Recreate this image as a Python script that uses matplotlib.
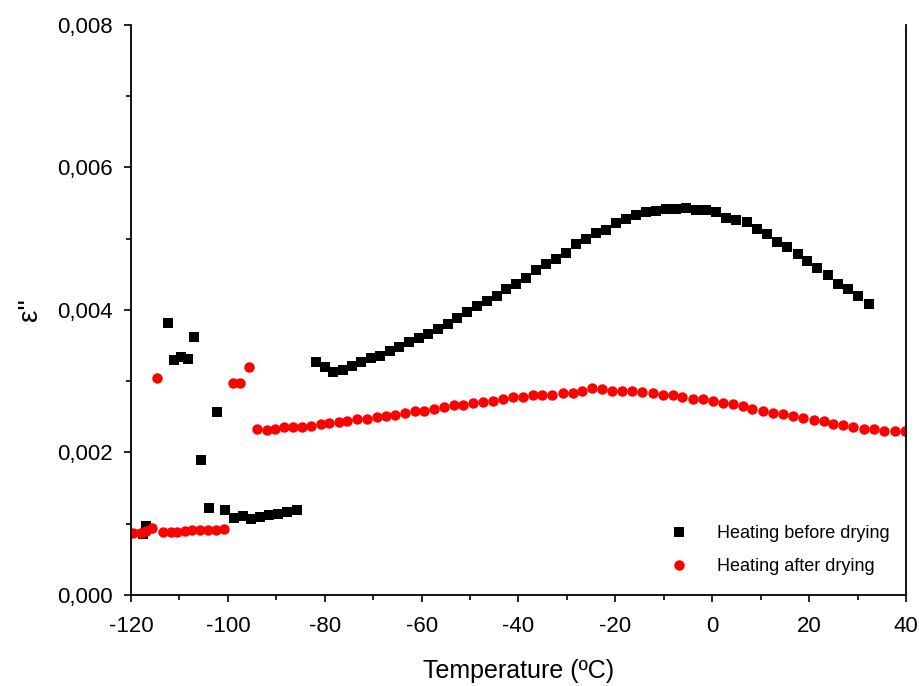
import numpy as np
import matplotlib
matplotlib.use("Agg")
import matplotlib.pyplot as plt
from matplotlib.ticker import MultipleLocator, FuncFormatter

plt.rcParams['font.family'] = ['Liberation Sans', 'DejaVu Sans']
plt.rcParams['axes.unicode_minus'] = False

# heating before drying (black squares), eps'' in units of 1e-3
t_before = [-117.6, -116.8, -112.4, -111.1, -109.7, -108.3, -107.0, -105.5, -103.8, -102.2,
            -100.5, -98.7, -96.8, -95.2, -93.4, -91.6, -89.7, -87.7, -85.7,
            -81.9, -79.9, -78.2, -76.2, -74.3, -72.5, -70.5, -68.5, -66.5, -64.6,
            -62.6, -60.5, -58.6, -56.6, -54.6, -52.6, -50.6, -48.5, -46.5, -44.5,
            -42.5, -40.5, -38.5, -36.4, -34.3, -32.3, -30.2, -28.1, -26.1, -24.0,
            -21.9, -19.9, -17.8, -15.7, -13.7, -11.6, -9.6, -7.5, -5.4, -3.4,
            -1.3, 0.8, 2.8, 5.0, 7.1, 9.3, 11.4, 13.4, 15.5, 17.6,
            19.6, 21.7, 23.8, 26.0, 28.0, 30.1, 32.3]
e_before = [0.85, 0.97, 3.82, 3.30, 3.34, 3.31, 3.62, 1.89, 1.22, 2.57,
            1.19, 1.08, 1.11, 1.07, 1.10, 1.12, 1.14, 1.16, 1.19,
            3.27, 3.20, 3.13, 3.16, 3.22, 3.27, 3.32, 3.36, 3.43, 3.48,
            3.55, 3.61, 3.66, 3.73, 3.81, 3.89, 3.97, 4.05, 4.12, 4.20,
            4.29, 4.36, 4.45, 4.56, 4.65, 4.72, 4.80, 4.93, 4.99, 5.08,
            5.12, 5.22, 5.27, 5.33, 5.37, 5.39, 5.42, 5.42, 5.43, 5.41,
            5.40, 5.37, 5.29, 5.26, 5.23, 5.13, 5.06, 4.95, 4.88, 4.79,
            4.69, 4.59, 4.49, 4.37, 4.30, 4.19, 4.09]

# heating after drying (red circles)
t_after = [-119.5, -118.0, -116.8, -115.7, -114.6, -113.3, -111.8, -110.4, -108.9, -107.4,
           -105.8, -104.1, -102.5, -100.7, -99.0, -97.4, -95.6,
           -93.9, -92.0, -90.3, -88.4, -86.6, -84.7, -82.9, -80.8, -79.1, -77.1,
           -75.3, -73.3, -71.3, -69.3, -67.4, -65.4, -63.5, -61.4, -59.5, -57.4,
           -55.4, -53.3, -51.4, -49.3, -47.4, -45.2, -43.3, -41.2, -39.1, -37.1,
           -35.2, -33.0, -30.9, -28.8, -26.9, -24.8, -22.8, -20.7, -18.6, -16.6,
           -14.5, -12.3, -10.2, -8.2, -6.2, -4.0, -2.0, 0.1, 2.2, 4.2,
           6.3, 8.3, 10.4, 12.5, 14.7, 16.7, 18.8, 21.0, 23.1, 25.0,
           27.0, 29.1, 31.3, 33.4, 35.5, 37.7, 39.8]
e_after = [0.875, 0.875, 0.90, 0.94, 3.05, 0.884, 0.884, 0.884, 0.90, 0.91,
           0.91, 0.91, 0.91, 0.92, 2.97, 2.97, 3.20,
           2.334, 2.316, 2.325, 2.353, 2.362, 2.362, 2.372, 2.400, 2.410, 2.428,
           2.446, 2.466, 2.475, 2.494, 2.512, 2.531, 2.550, 2.578, 2.587, 2.606,
           2.634, 2.662, 2.671, 2.699, 2.709, 2.727, 2.746, 2.774, 2.783, 2.811,
           2.811, 2.811, 2.839, 2.839, 2.858, 2.905, 2.895, 2.867, 2.867, 2.858,
           2.849, 2.830, 2.802, 2.802, 2.783, 2.755, 2.746, 2.727, 2.699, 2.681,
           2.653, 2.615, 2.587, 2.559, 2.541, 2.512, 2.484, 2.456, 2.447, 2.400,
           2.390, 2.353, 2.334, 2.325, 2.297, 2.297, 2.297]

xticks = [-120, -100, -80, -60, -40, -20, 0, 20, 40]
yticks = [0, 0.002, 0.004, 0.006, 0.008]

fig = plt.figure(figsize=(9.19, 6.86), dpi=100)
ax = fig.add_axes([0.1425, 0.1327, 0.8434, 0.8309])

ax.plot(t_before, np.array(e_before) * 1e-3, 's', color='black', ms=6.5, mew=0,
        label='Heating before drying')
ax.plot(t_after, np.array(e_after) * 1e-3, 'o', color='#ff0000', ms=7.5, mew=0,
        label='Heating after drying')

ax.set_xlim(-120, 40)
ax.set_ylim(0, 0.008)
ax.set_xticks(xticks)
ax.set_yticks(yticks)
ax.xaxis.set_minor_locator(MultipleLocator(10))
ax.yaxis.set_minor_locator(MultipleLocator(0.001))
ax.yaxis.set_major_formatter(FuncFormatter(lambda v, p: f"{v:.3f}".replace('.', ',')))

ax.spines['top'].set_visible(False)
for s in ['left', 'bottom', 'right']:
    ax.spines[s].set_linewidth(1.3)
ax.tick_params(which='major', direction='out', length=5, width=1.2, labelsize=16)
ax.tick_params(which='minor', direction='out', length=3.5, width=1.2)
ax.tick_params(axis='x', which='major', pad=10)
ax.tick_params(axis='y', which='major', pad=8)
ax.tick_params(right=False, which='both')

ax.set_xlabel('Temperature (ºC)', fontsize=18, labelpad=16)
ax.set_ylabel("ε''", fontsize=20, labelpad=10)

ax.legend(loc='upper left', bbox_to_anchor=(0.672, 0.151), frameon=False,
          fontsize=13, handletextpad=1.5, labelspacing=0.9, handlelength=1.2)

fig.savefig('out.png', dpi=100)
